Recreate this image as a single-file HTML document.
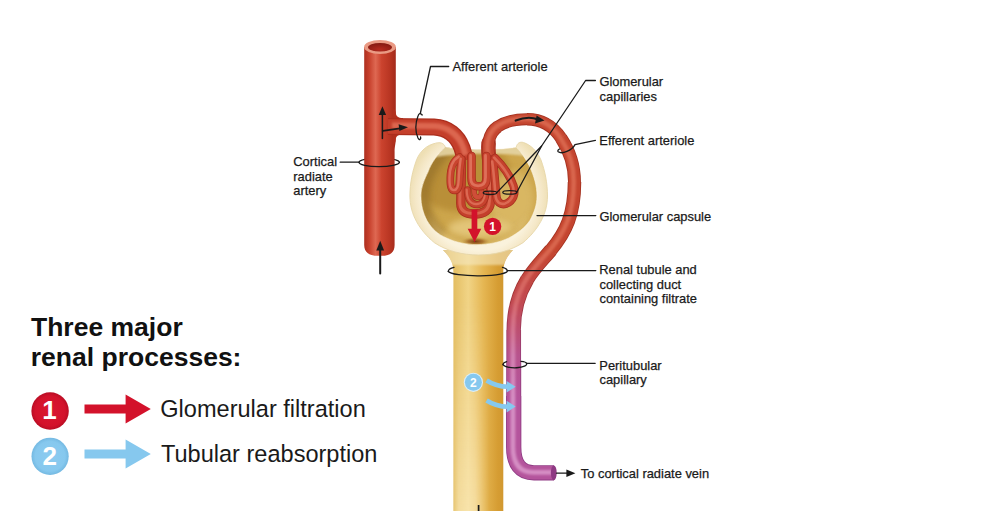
<!DOCTYPE html>
<html lang="en">
<head>
<meta charset="utf-8">
<title>Three major renal processes</title>
<style>
  html, body { margin: 0; padding: 0; background: #ffffff; }
  body { width: 1000px; height: 511px; overflow: hidden; position: relative; }
  svg { position: absolute; left: 0; top: 0; display: block; }
  text { font-family: "Liberation Sans", Arial, Helvetica, sans-serif; fill: #1a1a1a; }
  .lbl { font-size: 12.9px; stroke: #1a1a1a; stroke-width: 0.25px; }
  .lead { fill: none; stroke: #1a1a1a; stroke-width: 1.3; stroke-linecap: round; stroke-linejoin: round; }
  .hd { font-size: 26.5px; font-weight: bold; fill: #111; }
  .lg { font-size: 23.55px; fill: #1a1a1a; }
</style>
</head>
<body>
<svg width="1000" height="511" viewBox="0 0 1000 511">
  <defs>
    <linearGradient id="gArt" x1="0" y1="0" x2="1" y2="0">
      <stop offset="0" stop-color="#ad2f1f"/>
      <stop offset="0.15" stop-color="#c63f2b"/>
      <stop offset="0.36" stop-color="#de6852"/>
      <stop offset="0.55" stop-color="#cb432e"/>
      <stop offset="0.82" stop-color="#b83522"/>
      <stop offset="1" stop-color="#a32a1b"/>
    </linearGradient>
    <linearGradient id="gTub" x1="0" y1="0" x2="1" y2="0">
      <stop offset="0" stop-color="#c79c40"/>
      <stop offset="0.1" stop-color="#e0b859"/>
      <stop offset="0.36" stop-color="#f1d486"/>
      <stop offset="0.58" stop-color="#e5b652"/>
      <stop offset="0.78" stop-color="#d69d33"/>
      <stop offset="0.94" stop-color="#cd932c"/>
      <stop offset="1" stop-color="#c9973c"/>
    </linearGradient>
    <radialGradient id="gCupIn" cx="0.5" cy="0.45" r="0.62">
      <stop offset="0" stop-color="#ddbb66"/>
      <stop offset="0.55" stop-color="#d6b25c"/>
      <stop offset="0.85" stop-color="#c9a14c"/>
      <stop offset="1" stop-color="#b98f3e"/>
    </radialGradient>
    <radialGradient id="gHole" cx="0.5" cy="0.6" r="0.5">
      <stop offset="0" stop-color="#7a3a12"/>
      <stop offset="0.5" stop-color="#a56a28" stop-opacity="0.85"/>
      <stop offset="1" stop-color="#c9a14c" stop-opacity="0"/>
    </radialGradient>
    <linearGradient id="gEff" gradientUnits="userSpaceOnUse" x1="0" y1="250" x2="0" y2="400">
      <stop offset="0" stop-color="#c4452f"/>
      <stop offset="0.35" stop-color="#c24a52"/>
      <stop offset="0.7" stop-color="#b7538d"/>
      <stop offset="1" stop-color="#b4549c"/>
    </linearGradient>
    <linearGradient id="gEffD" gradientUnits="userSpaceOnUse" x1="0" y1="250" x2="0" y2="400">
      <stop offset="0" stop-color="#a4311f"/>
      <stop offset="0.35" stop-color="#a2353c"/>
      <stop offset="0.7" stop-color="#973b78"/>
      <stop offset="1" stop-color="#8f3a83"/>
    </linearGradient>
    <linearGradient id="gEffHi" gradientUnits="userSpaceOnUse" x1="0" y1="250" x2="0" y2="400">
      <stop offset="0" stop-color="#de6e55"/>
      <stop offset="0.35" stop-color="#da6f72"/>
      <stop offset="0.7" stop-color="#d88bb8"/>
      <stop offset="1" stop-color="#dd9ccd"/>
    </linearGradient>
    <radialGradient id="gRedC" cx="0.5" cy="0.5" r="0.5">
      <stop offset="0" stop-color="#da1730"/><stop offset="0.8" stop-color="#d3122b"/><stop offset="1" stop-color="#b90d24"/>
    </radialGradient>
    <radialGradient id="gBlueC" cx="0.5" cy="0.5" r="0.5">
      <stop offset="0" stop-color="#8ccbf0"/><stop offset="0.8" stop-color="#86c8ee"/><stop offset="1" stop-color="#74b9e2"/>
    </radialGradient>
    <linearGradient id="gTubLiteV" x1="0" y1="0" x2="0" y2="1">
      <stop offset="0" stop-color="#fff3d0" stop-opacity="0"/><stop offset="1" stop-color="#fff3d0" stop-opacity="0.5"/>
    </linearGradient>
    <linearGradient id="gTubLiteH" x1="0" y1="0" x2="1" y2="0">
      <stop offset="0" stop-color="#fff" stop-opacity="0.3"/><stop offset="0.15" stop-color="#fff" stop-opacity="1"/><stop offset="0.6" stop-color="#fff" stop-opacity="1"/><stop offset="1" stop-color="#fff" stop-opacity="0"/>
    </linearGradient>
    <mask id="mTubLite" maskContentUnits="objectBoundingBox"><rect x="0" y="0" width="1" height="1" fill="url(#gTubLiteH)"/></mask>
    <radialGradient id="gWall" gradientUnits="userSpaceOnUse" cx="478.7" cy="196" r="70">
      <stop offset="0.78" stop-color="#faf2dc"/><stop offset="0.9" stop-color="#f5e8c8"/><stop offset="1" stop-color="#eedfb4"/>
    </radialGradient>
    <radialGradient id="gLumen" cx="0.5" cy="0.75" r="0.7">
      <stop offset="0" stop-color="#b52a1f"/><stop offset="1" stop-color="#851a12"/>
    </radialGradient>
    <filter id="soft3" x="-30%" y="-30%" width="160%" height="160%"><feGaussianBlur stdDeviation="3"/></filter>
    <filter id="soft" x="-20%" y="-20%" width="140%" height="140%"><feGaussianBlur stdDeviation="0.6"/></filter>
    <filter id="soft2" x="-20%" y="-20%" width="140%" height="140%"><feGaussianBlur stdDeviation="1.2"/></filter>
  </defs>

  <rect width="1000" height="511" fill="#ffffff"/>

  <!-- ============ Renal tubule ============ -->
  <path d="M453.4 511 L453.4 272 C453.4 263 450 257 443 250 L513 250 C506.5 257 503.3 263 503.3 272 L503.3 511 Z" fill="url(#gTub)"/>
  <clipPath id="tubClip"><path d="M453.4 511 L453.4 272 C453.4 263 450 257 443 250 L513 250 C506.5 257 503.3 263 503.3 272 L503.3 511 Z"/></clipPath>
  <g clip-path="url(#tubClip)"><path d="M440 246 L516 246 L516 256 C508 258 506 262 504 265 L452 265 C450 262 448 258 440 256 Z" fill="#f6e8c0" opacity="0.6" filter="url(#soft2)"/></g>
  

  <rect x="453.4" y="300" width="36" height="211" fill="url(#gTubLiteV)" mask="url(#mTubLite)"/>
  <path d="M478.6 505 L478.6 511" stroke="#1a1a1a" stroke-width="1.7" fill="none"/>

  <!-- ============ Glomerular capsule ============ -->
  <g id="capsule">
    <path d="M435.6 143.2 C427 145 420 151 416.5 160 C412.5 171 409.9 183 409.9 196 C409.9 214 419 230 434.4 242.7 C447 251 462 255 478.7 255 C495 255 510 251 523 242.7 C538 230 547.5 214 547.5 196 C547.5 183 545 171 541 160 C537 151 531 145 523.5 142.5 C520 141.5 517 143 516.3 147.2 L516.3 165 L445.4 165 L445.4 147.2 C444 143 440 141.8 435.6 143.2 Z" fill="url(#gWall)" stroke="#e6d6a8" stroke-width="0.9"/>
    <clipPath id="cavClip"><path id="cav" d="M445.4 147.2 C438 154 431 163 428.2 171.7 C424 180 420.9 188 420.9 196 C420.9 205 423 213 427 220.6 C432 229 438 234.5 446.6 238 C456 242.5 466 244.6 477 244.6 C489 244.6 499 242.5 508.8 238 C518 233 525 227.5 529.8 220.6 C534 213 537 205 537 196 C537 186 534 176 529.8 166.8 C526 159 521 152 516.3 147.2 C500 150.5 462 150.5 445.4 147.2 Z"/></clipPath>
    <use href="#cav" fill="#cda64c"/>
    <g clip-path="url(#cavClip)">
      <ellipse cx="462" cy="176" rx="50" ry="36" fill="#b98f39" filter="url(#soft3)"/>
      <path d="M446 150 C436 160 424 178 424 196 C424 212 430 226 442 236" fill="none" stroke="#97722a" stroke-width="12" opacity="0.75" filter="url(#soft3)"/>
      <ellipse cx="512" cy="200" rx="22" ry="30" fill="#dcbc6a" opacity="0.75" filter="url(#soft3)"/>
      <path d="M428 214 C440 236 458 245 478 245 C498 245 516 236 530 214 C522 238 500 252 478 252 C456 252 434 238 428 214 Z" fill="#ead08c" opacity="0.8" filter="url(#soft3)"/>
      <ellipse cx="480" cy="228" rx="32" ry="10" fill="#e6ca80" opacity="0.85" filter="url(#soft3)"/>
      <path d="M440 145 C460 149.5 500 149.5 522 145 L527 156 C500 153 460 153 436 157 Z" fill="#e3d2a0" opacity="0.95" filter="url(#soft2)"/>
    </g>
    <ellipse cx="475.5" cy="240.6" rx="15" ry="4.6" fill="url(#gHole)"/>
    <use href="#cav" fill="none" stroke="#fbf5e4" stroke-width="1" opacity="0.6"/>
  </g>

  <!-- ============ Cortical radiate artery ============ -->
  <g id="artery">
    <path class="lead" d="M359 162.4 A20.2 4.3 0 0 1 399.4 162.4"/>
    <path d="M364.2 47 L364.2 245 C364.2 252 369 255.8 377 255.8 L382.5 255.8 C390.5 255.8 394.6 252 394.6 245 L394.6 152 C394.6 146 395.8 144 395.8 138 L395.8 47 Z" fill="url(#gArt)"/>
    <ellipse cx="380" cy="47" rx="15.9" ry="6.9" fill="#ea9a84"/>
    <ellipse cx="380" cy="47.2" rx="12" ry="4.3" fill="url(#gLumen)"/>
  </g>

  <!-- ============ Afferent arteriole ============ -->
  <path id="affp" fill="none" d="M388 126.4 L434 127 C448 127.6 457.5 136 462 148 L465.5 160"/>
  <path d="M393 109 C395 109 395.5 111 395.8 113 C396.3 116.5 398 118 403 118 L403 134.6 C398 134.6 396 136.3 395.6 140 C395.4 142 395 144 393 144 Z" fill="#b2301e"/>
  <use href="#affp" stroke="#ab2e1d" stroke-width="17"/>
  <use href="#affp" stroke="#c43f2b" stroke-width="14.5"/>
  <path d="M392 125.5 L434 126 C448 126.6 458.5 135 463 147 L465.5 155" fill="none" stroke="#dc6650" stroke-width="6" filter="url(#soft2)"/>
  <path class="lead" d="M340.2 162.2 L359 162.2 A20.2 4.3 0 0 0 399.4 162.4"/>

  <!-- ============ Efferent arteriole / peritubular capillary ============ -->
  <path id="effp" fill="none" d="M489.6 160 C486.6 146 488.4 133 498 126.5 C506 121 516 119.2 527 119.2 C541 119.2 553 126 561 138 C569 150 574.5 164 574.5 182 C574.5 214 566 232 551 250 C537 267 514 285 513.7 330 L513.7 447 C513.7 464 520.5 472.8 534 472.8 L553 472.8"/>
  <path d="M490 164 C488.6 156 488 149 488.6 143" fill="none" stroke="#a8301f" stroke-width="14.6" stroke-linecap="round"/>
  <path d="M490 164 C488.6 156 488 149 488.6 143" fill="none" stroke="#c6452f" stroke-width="13" stroke-linecap="round"/>
  <g fill="none" stroke-linecap="butt">
    <path d="M489.6 160 C486.6 146 488.4 133 498 126.5" stroke="url(#gEffD)" stroke-width="12.6"/>
    <path d="M498 126.5 C506 121 516 119.2 527 119.2" stroke="url(#gEffD)" stroke-width="12.0"/>
    <path d="M527 119.2 C541 119.2 553 126 561 138" stroke="url(#gEffD)" stroke-width="12.4"/>
    <path d="M561 138 C569 150 574.5 164 574.5 182" stroke="url(#gEffD)" stroke-width="12.9"/>
    <path d="M574.5 182 C574.5 214 566 232 551 250" stroke="url(#gEffD)" stroke-width="13.5"/>
    <path d="M551 250 C544 258.5 534.75 267.25 527.21 279.5" stroke="url(#gEffD)" stroke-width="13.9"/>
    <path d="M527.21 279.5 C519.68 291.75 513.85 307.5 513.7 330" stroke="url(#gEffD)" stroke-width="14.3"/>
    <path d="M513.7 330 L513.7 362" stroke="url(#gEffD)" stroke-width="14.7"/>
    <path d="M513.7 362 L513.7 396" stroke="url(#gEffD)" stroke-width="15.0"/>
    <path d="M513.7 396 L513.7 447 C513.7 464 520.5 472.8 534 472.8 L554 472.8" stroke="url(#gEffD)" stroke-width="15.3"/>
    <path d="M489.6 160 C486.6 146 488.4 133 498 126.5" stroke="url(#gEff)" stroke-width="10.9"/>
    <path d="M498 126.5 C506 121 516 119.2 527 119.2" stroke="url(#gEff)" stroke-width="10.3"/>
    <path d="M527 119.2 C541 119.2 553 126 561 138" stroke="url(#gEff)" stroke-width="10.7"/>
    <path d="M561 138 C569 150 574.5 164 574.5 182" stroke="url(#gEff)" stroke-width="11.2"/>
    <path d="M574.5 182 C574.5 214 566 232 551 250" stroke="url(#gEff)" stroke-width="11.8"/>
    <path d="M551 250 C544 258.5 534.75 267.25 527.21 279.5" stroke="url(#gEff)" stroke-width="12.2"/>
    <path d="M527.21 279.5 C519.68 291.75 513.85 307.5 513.7 330" stroke="url(#gEff)" stroke-width="12.6"/>
    <path d="M513.7 330 L513.7 362" stroke="url(#gEff)" stroke-width="13.0"/>
    <path d="M513.7 362 L513.7 396" stroke="url(#gEff)" stroke-width="13.3"/>
    <path d="M513.7 396 L513.7 447 C513.7 464 520.5 472.8 534 472.8 L554 472.8" stroke="url(#gEff)" stroke-width="13.6"/>
  </g>
  <use href="#effp" fill="none" stroke="url(#gEffHi)" stroke-width="4.8" filter="url(#soft2)" transform="translate(-0.8,-0.5)" opacity="0.8"/>
  <ellipse cx="553.8" cy="472.8" rx="2.9" ry="7.4" fill="#8f3a83"/>

  <!-- ============ Glomerular capillaries ============ -->
  <g id="caps" fill="none">
    <path id="c1" d="M459.5 157 C454 160 450.5 168 450.3 178 C450.1 186 451 190.5 454.7 190.5 C458.5 190.5 459.3 186 459.5 180 C459.7 172 460.5 166 461.5 159"/>
    <path id="c2" d="M461.5 160 L460.8 203 C460.8 211 466 214 474.5 214 C484 214 490 210 490.3 202 L491 160"/>
    <path id="c3" d="M471.5 156 L471.5 178 C471.5 184 474 186.3 479 186.3 C484 186.3 486.4 184 486.4 178 L486.4 156"/>
    <path id="c4" d="M495 158 C501 164 510 175 513.5 186 C516 194 513 201 506 203.8 C500.5 205.5 497 202 496.3 196 C495.5 186 494.5 172 493 162"/>
    <path id="c5" d="M467.5 190 C467.5 199 471 204.6 477 204.6 C482.5 204.6 485.5 200 485.7 194"/>
    <path id="c6" d="M474 190 C474 195 475.5 197.3 478 197.3 C480.5 197.3 481.5 195 481.5 191"/>
  </g>
  <g fill="none" stroke-linecap="round" stroke-linejoin="round">
    <use href="#c2" stroke="#a8301f" stroke-width="9.4"/><use href="#c2" stroke="#c4402c" stroke-width="7.8"/><use href="#c2" stroke="#d9654e" stroke-width="3" transform="translate(-1,-0.5)" filter="url(#soft)"/>
    <use href="#c5" stroke="#a8301f" stroke-width="7.4"/><use href="#c5" stroke="#c6422e" stroke-width="5.8"/><use href="#c5" stroke="#db6a53" stroke-width="2.2" transform="translate(-0.8,-0.5)" filter="url(#soft)"/>
    <use href="#c6" stroke="#a8301f" stroke-width="5.6"/><use href="#c6" stroke="#cf4e38" stroke-width="4.2"/>
    <use href="#c4" stroke="#a8301f" stroke-width="8.4"/><use href="#c4" stroke="#c5412d" stroke-width="6.8"/><use href="#c4" stroke="#db6a53" stroke-width="2.6" transform="translate(-0.8,-0.4)" filter="url(#soft)"/>
    <use href="#c1" stroke="#a8301f" stroke-width="7.6"/><use href="#c1" stroke="#c8442f" stroke-width="6.2"/><use href="#c1" stroke="#de705a" stroke-width="2.4" transform="translate(-0.8,-0.4)" filter="url(#soft)"/>
    <use href="#c3" stroke="#a8301f" stroke-width="8.6"/><use href="#c3" stroke="#c8442f" stroke-width="7"/><use href="#c3" stroke="#de705a" stroke-width="2.8" transform="translate(-0.9,-0.5)" filter="url(#soft)"/>
  </g>
  <!-- ============ arrows in vessels ============ -->
  <g stroke="#1a1a1a" stroke-width="1.2" fill="none" stroke-linecap="round">
    <path d="M382.4 138.6 L382.4 112" stroke-width="1.5"/>
    <path d="M382.8 130.8 L400 128.4" stroke-width="1.8"/>
    <path d="M380.2 273.6 L380.2 249" stroke-width="2"/>
    <path d="M515.7 120.6 Q528 115.6 538 119.4" stroke-width="2.2"/>
    <path d="M556.5 473.2 L568 473.2"/>
  </g>
  <g fill="#1a1a1a">
    <path d="M382.4 106.2 L386.1 115 L378.7 115 Z"/>
    <path d="M408 127.3 L399.4 131 L398.6 124.2 Z"/>
    <path d="M380.2 240.8 L384.1 250.4 L376.3 250.4 Z"/>
    <path d="M544.5 120.6 L535 123.6 L536.6 115.4 Z"/>
    <path d="M575.4 473.2 L566.4 476.9 L566.4 469.5 Z"/>
  </g>

  <!-- ============ filtration arrow and numbers ============ -->
  <path d="M471.6 209.6 L477.3 209.6 L477.3 228.8 L481.3 228.8 L474.5 242 L467.7 228.8 L471.6 228.8 Z" fill="#d3122b"/>
  <circle cx="492.6" cy="226.4" r="8.7" fill="#d3122b"/>
  <text x="492.6" y="230.7" text-anchor="middle" font-size="12" font-weight="bold" style="fill:#fff">1</text>

  <circle cx="473.4" cy="382.3" r="9.6" fill="#d9eefa"/>
  <circle cx="473.4" cy="382.3" r="8.5" fill="#86c8ee"/>
  <text x="473.4" y="386.6" text-anchor="middle" font-size="12" font-weight="bold" style="fill:#fff">2</text>
  <g fill="none" stroke="#86c9ef" stroke-width="4.6" stroke-linecap="butt" filter="url(#soft)">
    <path d="M486.6 380.5 Q496 386.5 508 386.8"/>
    <path d="M486.6 400.5 Q496 406.5 508 406.8"/>
  </g>
  <g fill="#86c9ef" filter="url(#soft)">
    <path d="M515.6 386.8 L506.6 392.6 L506.6 381 Z"/>
    <path d="M515.6 406.6 L506.6 412.4 L506.6 400.8 Z"/>
  </g>

  <!-- ============ leader lines ============ -->
  <g class="lead">
    <path d="M448.7 66.5 L430.5 66.5 L420.3 113.5"/>
    <path d="M422.2 115 C420.5 112.6 418.8 113.5 418 116 C415.2 123 415 132 418 138 C419.5 140.8 421.2 139.2 420.6 137"/>
    <path d="M595.4 80.5 L585.6 80.5 L541.6 146 L496.8 192.6"/>
    <path d="M541.6 146 L516.8 192.2"/>
    <ellipse cx="490" cy="192.8" rx="6.8" ry="1.7"/>
    <ellipse cx="509.8" cy="192.4" rx="7" ry="1.7"/>
    <path d="M595.4 140.3 L575 144.6 C572 150.5 562 154.5 558.2 151.8 C557.4 151 558 149.8 559.5 149"/>
    <path d="M595.8 215.6 L537 215.6"/>
    <path d="M595.8 270.6 L507.3 270.6 A29.5 4.8 0 0 1 448.3 271.4"/>
    <path d="M448.3 271.4 C448.3 269.6 450.5 268.2 454 267.4"/>
    <path d="M507.3 270.6 C507 269.2 505 268 502.5 267.4"/>
    <path d="M595.2 363.3 L526.5 363.3 A11.8 3.8 0 0 1 503 364.6"/>
    <path d="M503 364.6 C503 363.3 504.4 362.3 506.6 361.7"/>
    <path d="M526.5 363.3 C526.3 362.4 524 361.6 521 361.3"/>
  </g>

  <!-- ============ text labels ============ -->
  <text class="lbl" x="452.5" y="70.7">Afferent arteriole</text>
  <text class="lbl" x="599.4" y="86.1">Glomerular</text>
  <text class="lbl" x="599.6" y="100.7">capillaries</text>
  <text class="lbl" x="599.3" y="144.6">Efferent arteriole</text>
  <text class="lbl" x="599.4" y="220.7">Glomerular capsule</text>
  <text class="lbl" x="599.3" y="274.1">Renal tubule and</text>
  <text class="lbl" x="599.5" y="288.7">collecting duct</text>
  <text class="lbl" x="599.5" y="303.3">containing filtrate</text>
  <text class="lbl" x="599.3" y="370">Peritubular</text>
  <text class="lbl" x="599.5" y="384.4">capillary</text>
  <text class="lbl" x="580.8" y="477.5">To cortical radiate vein</text>
  <text class="lbl" x="293.3" y="165.9">Cortical</text>
  <text class="lbl" x="293.3" y="180.5">radiate</text>
  <text class="lbl" x="293.3" y="194.8">artery</text>

  <!-- ============ legend ============ -->
  <text class="hd" x="31" y="335.5">Three major</text>
  <text class="hd" x="30.8" y="365.9">renal processes:</text>
  <circle cx="50.1" cy="411" r="18.7" fill="url(#gRedC)"/>
  <text x="49.6" y="419.2" text-anchor="middle" font-size="26" font-weight="bold" style="fill:#fff">1</text>
  <path d="M84.5 404.4 L125.6 404.4 L125.6 394.6 L150.8 409 L125.6 423.4 L125.6 413.6 L84.5 413.6 Z" fill="#d3122b"/>
  <text class="lg" x="160.3" y="416.7">Glomerular filtration</text>
  <circle cx="50.1" cy="456.3" r="18.6" fill="url(#gBlueC)"/>
  <text x="49.8" y="465.2" text-anchor="middle" font-size="26" font-weight="bold" style="fill:#fff">2</text>
  <path d="M84.5 449.4 L125.6 449.4 L125.6 439.6 L150.8 454 L125.6 468.4 L125.6 458.6 L84.5 458.6 Z" fill="#86c8ee"/>
  <text class="lg" x="161" y="462">Tubular reabsorption</text>
</svg>
</body>
</html>
